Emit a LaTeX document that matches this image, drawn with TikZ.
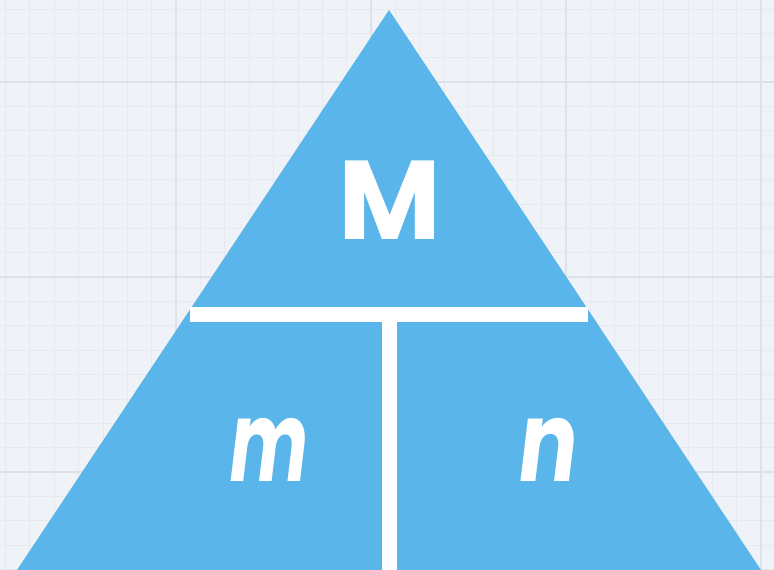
\documentclass[tikz,border=0pt]{standalone}
\usepackage{fontspec}
\setmainfont{Poppins}
\newfontfamily\mfont{Poppins}[FakeStretch=0.66,FakeSlant=0.12]
\newfontfamily\nfont{Poppins}[FakeStretch=0.78,FakeSlant=0.12]
\definecolor{bgc}{HTML}{EFF2F6}
\definecolor{minorc}{HTML}{E6EAF0}
\definecolor{majorc}{HTML}{DCE2E9}
\definecolor{triblue}{HTML}{5AB5EA}
\begin{document}
\begin{tikzpicture}[x=1pt,y=-1pt,
  lbl/.style={text=white,font=\fontsize{112}{112}\selectfont\bfseries,inner sep=0pt},
  bar/.style={white,line width=15pt}]
\useasboundingbox (0,0) rectangle (774,570);
\fill[bgc] (0,0) rectangle (774,570);
% minor grid
\foreach \i in {-7,...,24} {
  \draw[minorc,line width=0.7pt] ({176+\i*24.375},0) -- ({176+\i*24.375},570);
}
\foreach \i in {-3,...,20} {
  \draw[minorc,line width=0.7pt] (0,{82+\i*24.375}) -- (774,{82+\i*24.375});
}
% major grid
\foreach \x in {176,371,566,761} \draw[majorc,line width=1.4pt] (\x,0) -- (\x,570);
\foreach \y in {82,277,472} \draw[majorc,line width=1.4pt] (0,\y) -- (774,\y);
% triangle
\coordinate (apex) at (389,10);
\coordinate (bl) at (17,570);
\coordinate (br) at (761,570);
\fill[triblue] (apex) -- (br) -- (bl) -- cycle;
% bars
\coordinate (hl) at (190,314.5);
\coordinate (hr) at (588,314.5);
\coordinate (vt) at (389.5,314.5);
\coordinate (vb) at (389.5,575);
\draw[bar] (hl) -- (hr);
\draw[bar] (vt) -- (vb);
% labels
\node[lbl] (M) at (390,200) {M};
\node[lbl] (m) at (266,450) {\mfont\bfseries m};
\node[lbl] (n) at (545,450) {\nfont\bfseries n};
\end{tikzpicture}
\end{document}
